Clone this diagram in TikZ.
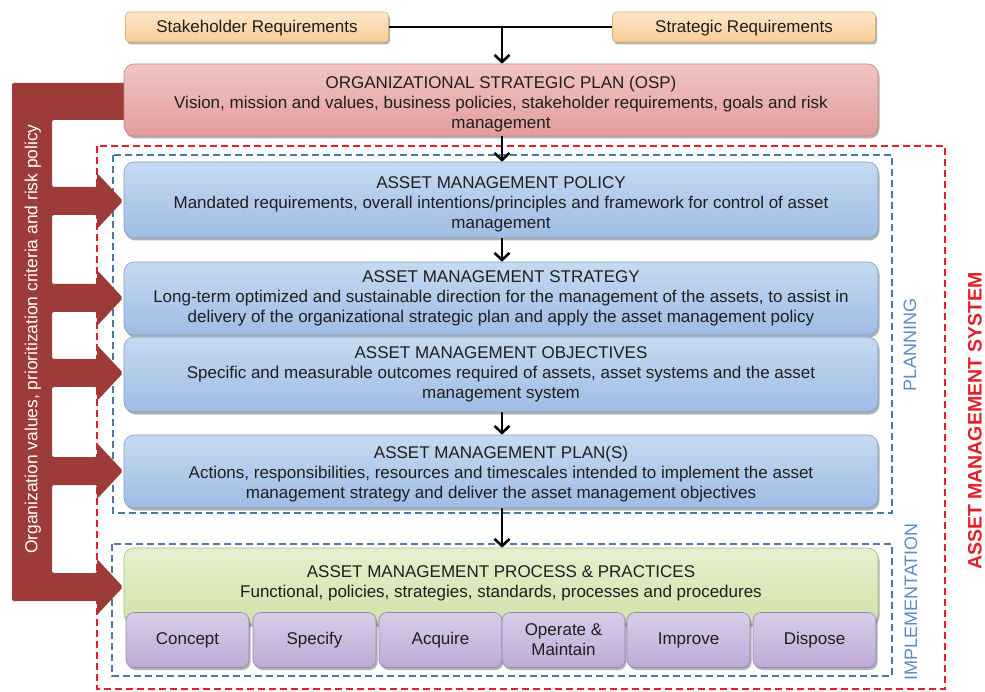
\documentclass[tikz,border=0pt]{standalone}
\usepackage{fontspec}
\setmainfont{Liberation Sans}
\usetikzlibrary{arrows.meta,shadows}

\definecolor{ink}{HTML}{1E1E1E}
\definecolor{reqtop}{HTML}{FDE7CB}
\definecolor{reqbot}{HTML}{F9CB94}
\definecolor{reqline}{HTML}{E0AE72}
\definecolor{osptop}{HTML}{F2C4C4}
\definecolor{ospbot}{HTML}{E29C9C}
\definecolor{ospline}{HTML}{C98484}
\definecolor{amtop}{HTML}{C6DAF1}
\definecolor{ambot}{HTML}{9EBCE3}
\definecolor{amline}{HTML}{7F9FC8}
\definecolor{protop}{HTML}{E6F0CF}
\definecolor{probot}{HTML}{D0E2A8}
\definecolor{proline}{HTML}{A9BF80}
\definecolor{lctop}{HTML}{D9CDE9}
\definecolor{lcbot}{HTML}{BDAAD6}
\definecolor{lcline}{HTML}{9884B3}
\definecolor{arrowred}{HTML}{9C3B38}
\definecolor{sysred}{HTML}{E3202A}
\definecolor{phaseblue}{HTML}{4C78AA}
\definecolor{labelblue}{HTML}{5B8BC5}

% tall strut that lowers the first line of a panel a little
\newcommand{\toplift}{\rule{0pt}{21pt}}
\newcommand{\smalllift}{\rule{0pt}{17pt}}

\tikzset{
  softshadow/.style={drop shadow={shadow xshift=1.5pt, shadow yshift=-2.5pt, opacity=0.3, fill=black}},
  panel/.style={rectangle, rounded corners=10pt, minimum width=754pt, inner sep=0pt,
    align=center, text=ink, font=\fontsize{17}{20}\selectfont, line width=0.6pt, softshadow},
  reqbox/.style={rectangle, rounded corners=4pt, minimum width=263pt, minimum height=30pt,
    top color=reqtop, bottom color=reqbot, draw=reqline, line width=0.6pt,
    text=ink, font=\fontsize{17}{19}\selectfont, softshadow},
  ospbox/.style={panel, top color=osptop, bottom color=ospbot, draw=ospline},
  ambox/.style={panel, top color=amtop, bottom color=ambot, draw=amline},
  probox/.style={panel, top color=protop, bottom color=probot, draw=proline},
  lcbox/.style={rectangle, rounded corners=8pt, minimum width=123pt, minimum height=55pt,
    top color=lctop, bottom color=lcbot, draw=lcline, line width=0.6pt, align=center,
    text=ink, font=\fontsize{17}{20}\selectfont, softshadow},
  flow/.style={line width=2.6pt, black, -{Straight Barb[length=7pt,width=15pt]}},
  sysframe/.style={draw=sysred, line width=2pt, dash pattern=on 7pt off 4pt},
  phaseframe/.style={draw=phaseblue, line width=2pt, dash pattern=on 7pt off 4pt},
  phaselabel/.style={rotate=90, text=labelblue, font=\fontsize{18}{20}\selectfont},
}

\begin{document}
\begin{tikzpicture}[x=1pt, y=-1pt]
\useasboundingbox (0,0) rectangle (985,692);

% frames of the management system and its two phases
\draw[sysframe] (97,146) rectangle (945,689);
\draw[phaseframe] (113,155) rectangle (892,513);
\draw[phaseframe] (112,544) rectangle (892,676);

% feedback band carrying organisation values into every level
\fill[arrowred, rounded corners=2pt]
  (12,83) -- (150,83) -- (150,120) -- (52,120)
  -- (52,187) -- (97,187) -- (97,173) -- (123,201) -- (97,229) -- (97,215) -- (52,215)
  -- (52,284) -- (97,284) -- (97,270) -- (123,298) -- (97,326) -- (97,312) -- (52,312)
  -- (52,359) -- (97,359) -- (97,345) -- (123,373) -- (97,401) -- (97,387) -- (52,387)
  -- (52,457) -- (97,457) -- (97,443) -- (123,471) -- (97,499) -- (97,485) -- (52,485)
  -- (52,573) -- (97,573) -- (97,559) -- (123,587) -- (97,615) -- (97,601) -- (12,601)
  -- cycle;
\node[rotate=90, text=white, font=\fontsize{17.4}{20}\selectfont] (orgvalues) at (33,339)
  {Organization values, prioritization criteria and risk policy};

% requirements feeding the strategic plan
\node[reqbox] (stake) at (257,27) {\rule{0pt}{15pt}Stakeholder Requirements};
\node[reqbox] (strat) at (744,27) {\rule{0pt}{15pt}Strategic Requirements};
\coordinate (join) at (502,27);
\draw[line width=2.6pt] (stake.east) -- (strat.west);

% strategic plan and planning levels
\node[ospbox, minimum height=72pt] (osp) at (501,100)
  {\toplift ORGANIZATIONAL STRATEGIC PLAN (OSP)\\
   Vision, mission and values, business policies, stakeholder requirements, goals and risk\\
   management};
\node[ambox, minimum height=76pt] (policy) at (501,200)
  {\toplift ASSET MANAGEMENT POLICY\\
   Mandated requirements, overall intentions/principles and framework for control of asset\\
   management};
\node[ambox, minimum height=73pt] (strategy) at (501,298.5)
  {ASSET MANAGEMENT STRATEGY\\
   Long-term optimized and sustainable direction for the management of the assets, to assist in\\
   delivery of the organizational strategic plan and apply the asset management policy};
\node[ambox, minimum height=75pt] (objectives) at (501,374.5)
  {ASSET MANAGEMENT OBJECTIVES\\
   Specific and measurable outcomes required of assets, asset systems and the asset\\
   management system};
\node[ambox, minimum height=73pt] (plans) at (501,471.5)
  {\smalllift ASSET MANAGEMENT PLAN(S)\\
   Actions, responsibilities, resources and timescales intended to implement the asset\\
   management strategy and deliver the asset management objectives};

% implementation: process and life-cycle stages
\node[probox, minimum height=76pt] (process) at (501,586) {};
\node[align=center, text=ink, font=\fontsize{17}{20}\selectfont] (processtext) at (501,583)
  {ASSET MANAGEMENT PROCESS \& PRACTICES\\
   Functional, policies, strategies, standards, processes and procedures};
\node[lcbox] (concept) at (187.5,640) {Concept};
\node[lcbox] (specify) at (314.5,640) {Specify};
\node[lcbox] (acquire) at (440.5,640) {Acquire};
\node[lcbox] (operate) at (563.5,640) {Operate \&\\Maintain};
\node[lcbox] (improve) at (688.5,640) {Improve};
\node[lcbox] (dispose) at (814.5,640) {Dispose};

% flow between levels
\draw[flow] (join) -- (osp.north -| join);
\draw[flow] (osp.south -| join) -- (policy.north -| join);
\draw[flow] (policy.south -| join) -- (strategy.north -| join);
\draw[flow] (objectives.south -| join) -- (plans.north -| join);
\draw[flow] (plans.south -| join) -- (process.north -| join);

% phase and system labels
\node[phaselabel] (planning) at (910,345) {PLANNING};
\node[phaselabel] (implementation) at (911,602) {IMPLEMENTATION};
\node[rotate=90, text=sysred, font=\bfseries\fontsize{19.5}{22}\selectfont] (amsystem) at (975,421)
  {ASSET MANAGEMENT SYSTEM};
\end{tikzpicture}
\end{document}
